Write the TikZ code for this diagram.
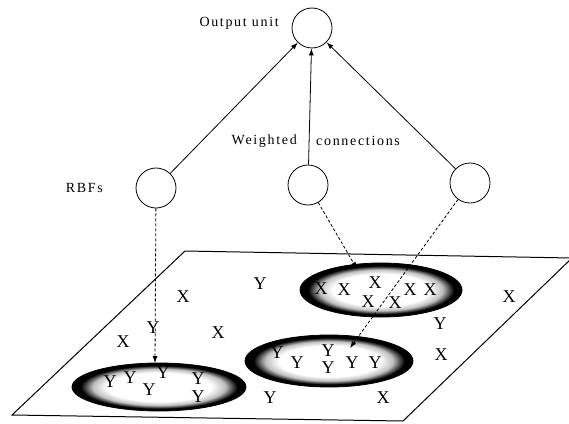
\documentclass[tikz,border=0pt]{standalone}
\usepackage{fontspec}
\setmainfont{Liberation Serif}
\usetikzlibrary{arrows.meta}
\pgfdeclareradialshading{rim}{\pgfpoint{0bp}{0bp}}{color(0bp)=(white); color(15bp)=(white); color(19bp)=(gray!50); color(22.5bp)=(black); color(50bp)=(black)}
\begin{document}
\begin{tikzpicture}[x=1pt,y=-1pt,
  unit/.style={circle,draw,minimum size=40pt,inner sep=0pt,line width=0.8pt},
  lbl/.style={font=\fontsize{14}{16}\selectfont\addfontfeature{LetterSpace=12},inner sep=0pt},
  ch/.style={font=\fontsize{18}{18}\selectfont,inner sep=0pt},
  wc/.style={-{Latex[length=7pt,width=5pt]},line width=0.8pt},
  dc/.style={-{Latex[length=7pt,width=5pt]},dash pattern=on 3pt off 2pt,line width=0.8pt},
  rimell/.style={shading=rim,draw,line width=0.8pt}]
\useasboundingbox (0,0) rectangle (569,423);
% plane
\coordinate (p1) at (185,251);
\coordinate (p2) at (572,258);
\coordinate (p3) at (403,421);
\coordinate (p4) at (12,415);
\begin{scope}
\clip (0,0) rectangle (569,423);
\draw[line width=1pt] (p1) -- (p2) -- (p3) -- (p4) -- cycle;
\end{scope}
% ellipses
\shade[rimell] (381,290) ellipse [x radius=81, y radius=27];
\shade[rimell] (329,361) ellipse [x radius=84, y radius=26];
\shade[rimell] (159,387) ellipse [x radius=87, y radius=24];
% units
\node[unit] (out) at (312,28) {};
\node[unit] (r1) at (156,188) {};
\node[unit] (r2) at (308,185) {};
\node[unit] (r3) at (470,183) {};
\node[lbl,anchor=east] (outl) at (279,23) {Output unit};
\node[lbl,anchor=east] (rbfl) at (103,188) {RBFs};
\node[lbl,anchor=east] (wl) at (297,141) {Weighted};
\node[lbl,anchor=west] (cl) at (316,141) {connections};
\draw[wc] (r1) -- (out);
\draw[wc] (r2) -- (out);
\draw[wc] (r3) -- (out);
% targets
\coordinate (e1) at (155,363);
\coordinate (e2) at (357,269);
\coordinate (e3) at (350,348);
\draw[dc] (r1) -- (e1);
\draw[dc] (r2) -- (e2);
\draw[dc] (r3) -- (e3);
% letters outside
\node[ch] (a1) at (183,297) {X};
\node[ch] (a2) at (260,284) {Y};
\node[ch] (a3) at (509,297) {X};
\node[ch] (a4) at (153,328) {Y};
\node[ch] (a5) at (123,342) {X};
\node[ch] (a6) at (218,333) {X};
\node[ch] (a7) at (440,324) {Y};
\node[ch] (a8) at (441,355) {X};
\node[ch] (a9) at (270,398) {Y};
\node[ch] (a10) at (383,398) {X};
% upper ellipse
\node[ch] (b1) at (321,289) {X};
\node[ch] (b2) at (344,290) {X};
\node[ch] (b3) at (375,283) {X};
\node[ch] (b4) at (368,302) {X};
\node[ch] (b5) at (395,303) {X};
\node[ch] (b6) at (410,290) {X};
\node[ch] (b7) at (430,290) {X};
% middle ellipse
\node[ch] (c1) at (277,353) {Y};
\node[ch] (c2) at (297,363) {Y};
\node[ch] (c3) at (328,351) {Y};
\node[ch] (c4) at (328,368) {Y};
\node[ch] (c5) at (352,363) {Y};
\node[ch] (c6) at (375,363) {Y};
% left ellipse
\node[ch] (d1) at (110,382) {Y};
\node[ch] (d2) at (130,378) {Y};
\node[ch] (d3) at (149,390) {Y};
\node[ch] (d4) at (163,373) {Y};
\node[ch] (d5) at (198,379) {Y};
\node[ch] (d6) at (198,397) {Y};
\end{tikzpicture}
\end{document}
